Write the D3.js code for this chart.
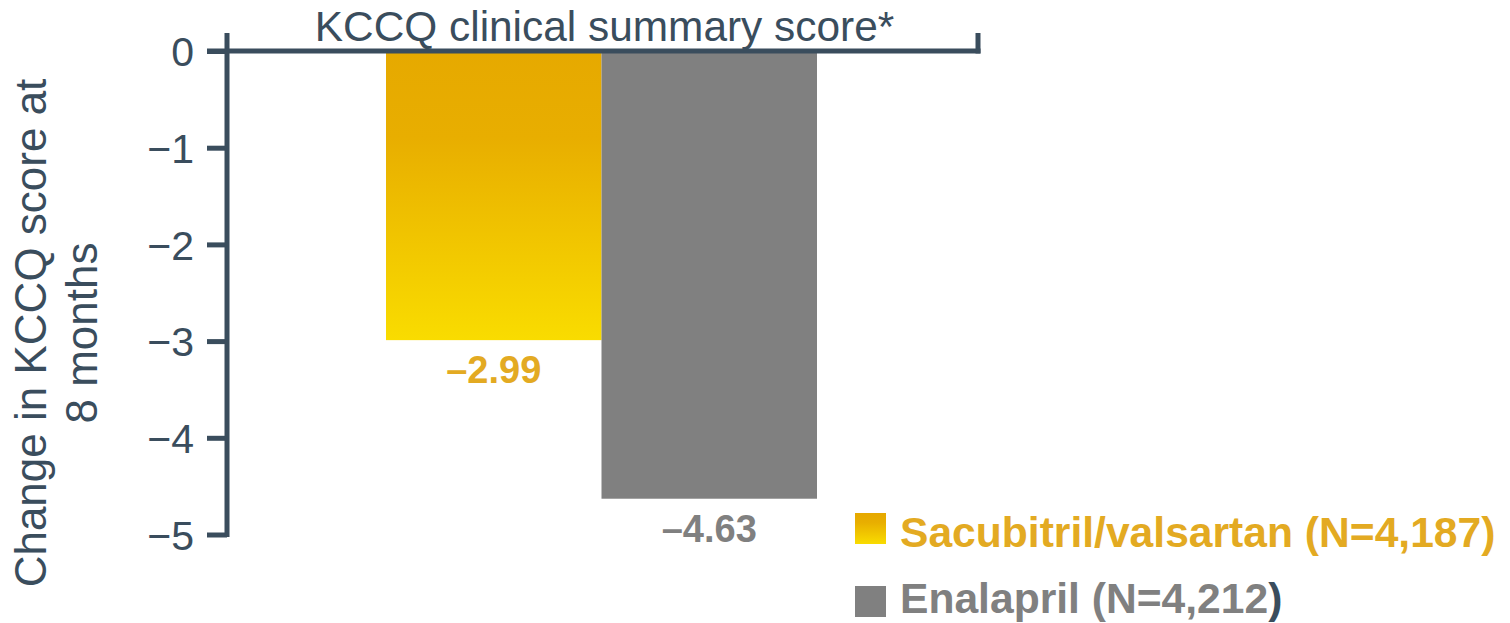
<!DOCTYPE html>
<html>
<head>
<meta charset="utf-8">
<script src="https://cdn.jsdelivr.net/npm/d3@7"></script>
<style>
  html, body { margin: 0; padding: 0; background: #ffffff; }
  svg { display: block; }
  text { font-family: "Liberation Sans", Arial, sans-serif; }
</style>
</head>
<body>
<svg id="chart" width="1510" height="623"></svg>
<script>
// Treatment arms and their mean change in KCCQ clinical summary score at 8 months
const categories = ["Sacubitril/valsartan", "Enalapril"];
const values = [-2.99, -4.63];
const valueLabels = ["\u20132.99", "\u20134.63"];
const legendLabels = ["Sacubitril/valsartan (N=4,187", "Enalapril (N=4,212"];
const yTicks = [0, -1, -2, -3, -4, -5];
const yTickLabels = ["0", "\u22121", "\u22122", "\u22123", "\u22124", "\u22125"];

const axisColor = "#3a4d5d";
const yellowText = "#e3aa22";
const greyFill = "#808080";

const svg = d3.select("#chart");

const y = d3.scaleLinear().domain([0, -5]).range([51, 534.5]);
const x = d3.scaleBand().domain(categories).range([386, 817]).padding(0);

// Gold gradient for the sacubitril/valsartan bar and its legend key
const defs = svg.append("defs");
const grad = defs.append("linearGradient")
  .attr("id", "goldGrad").attr("x1", 0).attr("y1", 0).attr("x2", 0).attr("y2", 1);
grad.append("stop").attr("offset", "0%").attr("stop-color", "#e6a900");
grad.append("stop").attr("offset", "30%").attr("stop-color", "#e8ae00");
grad.append("stop").attr("offset", "100%").attr("stop-color", "#f9dc00");

const fills = ["url(#goldGrad)", greyFill];
const labelColors = [yellowText, greyFill];

// Bars hang down from zero
svg.append("g").selectAll("rect")
  .data(values)
  .join("rect")
  .attr("x", (d, i) => x(categories[i]))
  .attr("y", y(0))
  .attr("width", x.bandwidth())
  .attr("height", d => y(d) - y(0))
  .attr("fill", (d, i) => fills[i]);

// Value labels beneath each bar
svg.append("g").selectAll("text")
  .data(values)
  .join("text")
  .attr("x", (d, i) => x(categories[i]) + x.bandwidth() / 2)
  .attr("y", d => y(d) + 43)
  .attr("text-anchor", "middle")
  .attr("font-size", 38)
  .attr("font-weight", "bold")
  .attr("fill", (d, i) => labelColors[i])
  .text((d, i) => valueLabels[i]);

// Left axis
const yAxis = d3.axisLeft(y)
  .tickValues(yTicks)
  .tickFormat((d, i) => yTickLabels[i])
  .tickSize(20)
  .tickPadding(13);

const gY = svg.append("g")
  .attr("transform", `translate(${227},0)`)
  .call(yAxis);
gY.select(".domain").remove();
gY.selectAll(".tick line").attr("stroke", axisColor).attr("stroke-width", 5);
gY.selectAll(".tick text")
  .attr("fill", axisColor)
  .attr("font-size", 41)
  .attr("font-family", "'Liberation Sans', Arial, sans-serif")
  .attr("dy", "0.36em");

// Vertical axis line, extending above zero and ending at the bottom tick
svg.append("line")
  .attr("x1", 227).attr("x2", 227)
  .attr("y1", y(0) - 18).attr("y2", y(-5) + 2.5)
  .attr("stroke", axisColor).attr("stroke-width", 5);

// Zero baseline across the top with an end cap
const xRight = 978;
svg.append("line")
  .attr("x1", 207).attr("x2", xRight + 2.5)
  .attr("y1", y(0)).attr("y2", y(0))
  .attr("stroke", axisColor).attr("stroke-width", 5);
svg.append("line")
  .attr("x1", xRight).attr("x2", xRight)
  .attr("y1", y(0) - 18).attr("y2", y(0) + 2.5)
  .attr("stroke", axisColor).attr("stroke-width", 5);

// Chart title sitting on the baseline
svg.append("text")
  .attr("x", x.range()[0] + x.bandwidth() + 3)
  .attr("y", 41)
  .attr("text-anchor", "middle")
  .attr("font-size", 42.4)
  .attr("fill", axisColor)
  .text("KCCQ clinical summary score*");

// Y-axis title, two lines
const yTitle = svg.append("text")
  .attr("transform", `translate(0,333) rotate(-90)`)
  .attr("text-anchor", "middle")
  .attr("font-size", 44)
  .attr("fill", axisColor);
yTitle.append("tspan").attr("x", 0).attr("y", 46).text("Change in KCCQ score at");
yTitle.append("tspan").attr("x", 0).attr("y", 97).text("8 months");

// Legend
const legend = svg.append("g");
const legendRows = [{ top: 513, base: 547 }, { top: 586, base: 613 }];
legendLabels.forEach((lab, i) => {
  legend.append("rect")
    .attr("x", 855).attr("y", legendRows[i].top)
    .attr("width", 31).attr("height", 31)
    .attr("fill", fills[i]);
  const t = legend.append("text")
    .attr("x", 900).attr("y", legendRows[i].base)
    .attr("font-size", 42.6)
    .attr("font-weight", "bold");
  t.append("tspan").attr("fill", labelColors[i]).text(lab);
  t.append("tspan").attr("fill", i === 0 ? labelColors[i] : axisColor).text(")");
});
</script>
</body>
</html>
